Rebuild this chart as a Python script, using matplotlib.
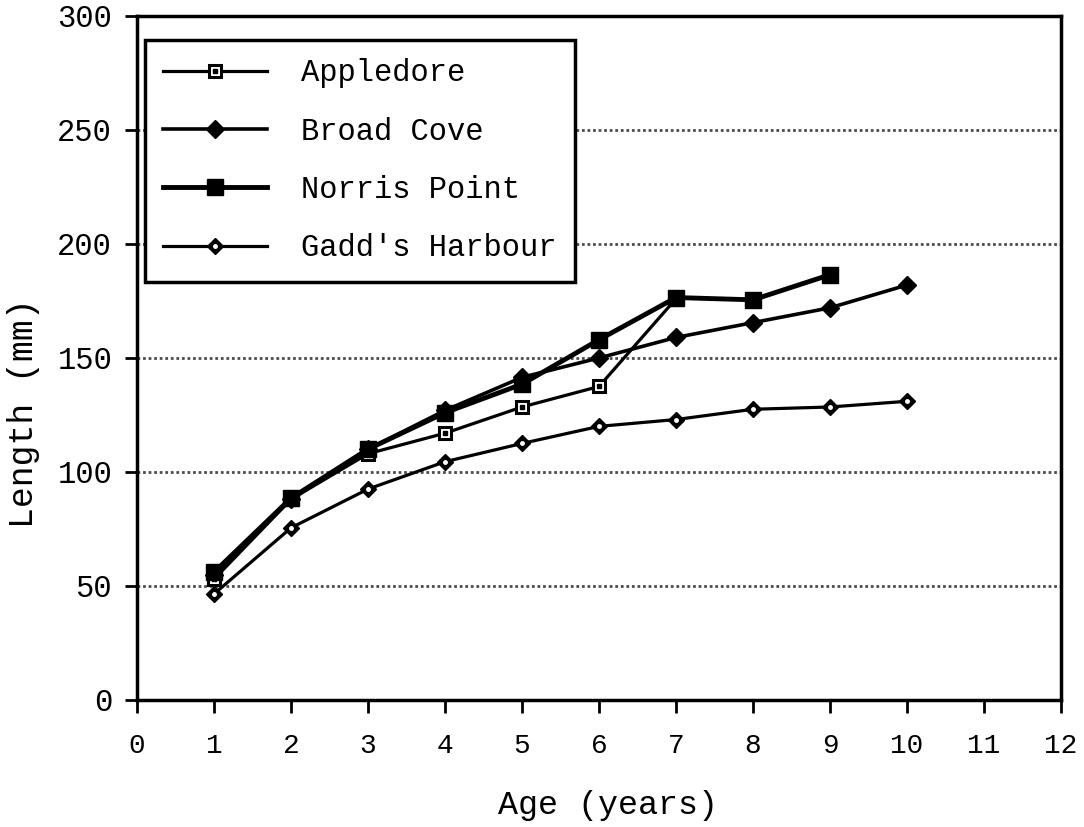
import numpy as np
import matplotlib.pyplot as plt
from matplotlib.legend_handler import HandlerTuple

plt.rcParams['font.family'] = ['Liberation Mono', 'DejaVu Sans Mono']

# growth data
app_age = [1, 2, 3, 4, 5, 6, 7]
app_len = [53, 88, 108, 117, 128.5, 137.5, 176]

bc_age = [1, 2, 3, 4, 5, 6, 7, 8, 9, 10]
bc_len = [55, 88, 110, 127, 141.5, 150, 159, 165.5, 172, 182]

np_age = [1, 2, 3, 4, 5, 6, 7, 8, 9]
np_len = [56, 88.5, 110, 126, 138.5, 158, 176.5, 175.5, 186.5]

gh_age = [1, 2, 3, 4, 5, 6, 7, 8, 9, 10]
gh_len = [46.5, 75.5, 92.5, 104.5, 112.5, 120, 123, 127.5, 128.5, 131]

xticks = np.arange(0, 13, 1)
yticks = np.arange(0, 301, 50)

fig = plt.figure(figsize=(10.84, 8.27), dpi=100)
ax = fig.add_axes([0.1264, 0.1536, 0.8524, 0.8271])

for y in yticks[1:-1]:
    ax.axhline(y, color='0.3', lw=2, ls=(0, (1, 1)), zorder=1)

k = 'black'
# Gadd's Harbour: diamond with open centre
l_gh, = ax.plot(gh_age, gh_len, color=k, lw=2.3, marker='D', ms=8, zorder=3)
d_gh, = ax.plot(gh_age, gh_len, ls='none', marker='o', ms=2.5, mfc='white', mec='white', zorder=4)
# Broad Cove: filled diamond
l_bc, = ax.plot(bc_age, bc_len, color=k, lw=2.6, marker='D', ms=9, zorder=3)
# Appledore: open square with dot
l_ap, = ax.plot(app_age, app_len, color=k, lw=2.3, marker='s', ms=9, mfc='white', mec=k, mew=2.2, zorder=5)
d_ap, = ax.plot(app_age, app_len, ls='none', marker='s', ms=2.5, mfc=k, mec=k, zorder=6)
# Norris Point: filled square, heavier line, drawn on top
l_np, = ax.plot(np_age, np_len, color=k, lw=3.5, marker='s', ms=12, zorder=7)

ax.set_xlim(0, 12)
ax.set_ylim(0, 300)
ax.set_xticks(xticks)
ax.set_yticks(yticks)
ax.tick_params(axis='both', direction='out', width=2, colors=k)
ax.tick_params(axis='x', length=9, pad=15, labelsize=20)
ax.tick_params(axis='y', length=9, pad=9, labelsize=22)
for s in ax.spines.values():
    s.set_linewidth(2.5)

ax.set_xlabel('Age (years)', fontsize=24)
ax.set_ylabel('Length (mm)', fontsize=25)
ax.xaxis.set_label_coords(0.51, -0.132)
ax.yaxis.set_label_coords(-0.105, 0.42)

leg = ax.legend([(l_ap, d_ap), l_bc, (l_np,), (l_gh, d_gh)],
                ['Appledore', 'Broad Cove', 'Norris Point', "Gadd's Harbour"],
                handler_map={tuple: HandlerTuple(ndivide=1)},
                loc='upper left', bbox_to_anchor=(0.0087, 0.965), borderaxespad=0,
                fontsize=22, handlelength=3.4, handletextpad=1.1, labelspacing=0.93,
                borderpad=0.6, fancybox=False, framealpha=1, edgecolor=k)
leg.get_frame().set_linewidth(2.5)
leg.set_zorder(10)

fig.savefig('out.png', dpi=100)
